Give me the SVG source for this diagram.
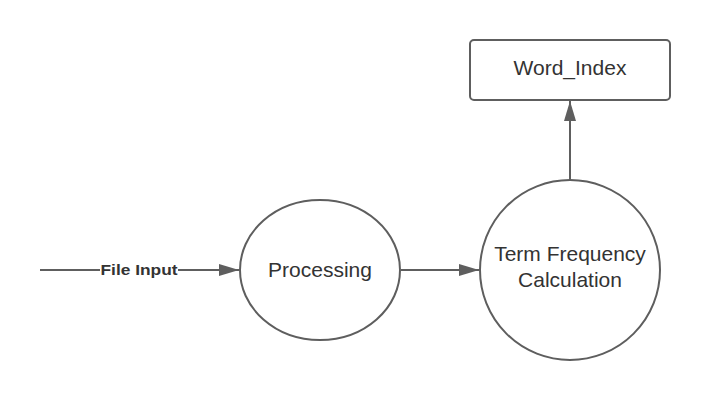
<svg xmlns="http://www.w3.org/2000/svg" width="710" height="400" viewBox="0 0 710 400">
<style>
.shape{fill:#fff;stroke:#5e5e5e;stroke-width:2}
.edge{fill:none;stroke:#5e5e5e;stroke-width:2}
.t{font-family:"Liberation Sans",Arial,sans-serif;font-size:21px;fill:#333;text-anchor:middle}
.lbl{font-family:"Liberation Sans",Arial,sans-serif;font-size:14.5px;font-weight:bold;fill:#333;text-anchor:middle}
</style>
<defs>
<marker id="arr" viewBox="0 0 20 12" refX="20" refY="6" markerWidth="20" markerHeight="12" markerUnits="userSpaceOnUse" orient="auto">
<path d="M0,0 L20,6 L0,12 Z" fill="#5e5e5e"/>
</marker>
</defs>
<rect width="710" height="400" fill="#fff"/>
<g id="connectors">
<path class="edge" d="M40,270 H100 M178,270 H239" marker-end="url(#arr)"/>
<text class="lbl" x="139" y="275" textLength="77" lengthAdjust="spacingAndGlyphs">File Input</text>
<path class="edge" d="M401,270 H479" marker-end="url(#arr)"/>
<path class="edge" d="M570,179 V101" marker-end="url(#arr)"/>
</g>
<g id="processing">
<ellipse class="shape" cx="320" cy="270" rx="80" ry="70"/>
<text class="t" x="320" y="277">Processing</text>
</g>
<g id="term-frequency">
<circle class="shape" cx="570" cy="270" r="90"/>
<text class="t" x="570" y="261">Term Frequency</text>
<text class="t" x="570" y="287">Calculation</text>
</g>
<g id="word-index">
<rect class="shape" x="470" y="40" width="200" height="60" rx="4"/>
<text class="t" x="570" y="75">Word_Index</text>
</g>
</svg>
